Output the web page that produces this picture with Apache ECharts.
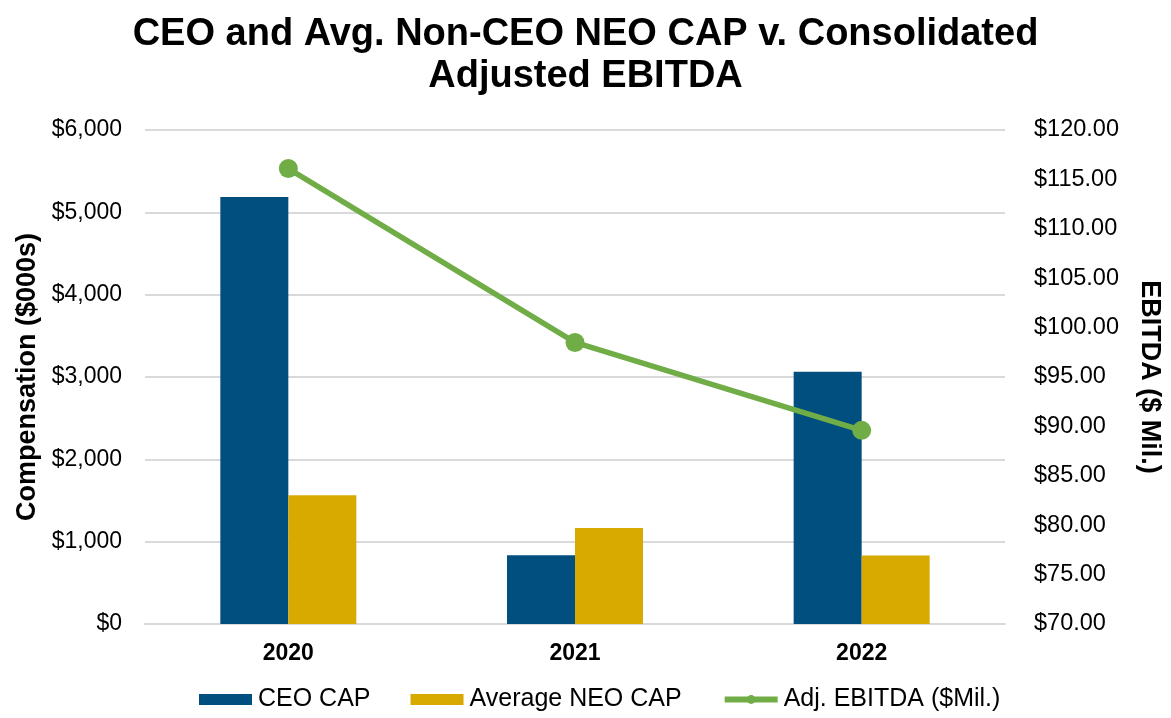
<!DOCTYPE html>
<html>
<head>
<meta charset="utf-8">
<script src="https://cdn.jsdelivr.net/npm/echarts@6/dist/echarts.min.js"></script>
<style>html,body{margin:0;padding:0;background:#fff}#c{width:1171px;height:718px}</style>
</head>
<body>
<div id="c"></div>
<script>
const categories = ['2020', '2021', '2022'];
const ceoCap = [5186, 835, 3063];
const avgNeoCap = [1565, 1167, 831];
const adjEbitda = [116.1, 98.5, 89.6];
const leftTicks = { min: 0, max: 6000, interval: 1000 };
const rightTicks = { min: 70, max: 120, interval: 5 };

const chart = echarts.init(document.getElementById('c'));
const FONT = '"Liberation Sans", Arial, sans-serif';
chart.setOption({
  animation: false,
  textStyle: { fontFamily: FONT },
  title: {
    text: 'CEO and Avg. Non-CEO NEO CAP v. Consolidated\nAdjusted EBITDA',
    left: 'center', top: 9,
    textStyle: { fontSize: 38, fontWeight: 'bold', color: '#000', lineHeight: 42, fontFamily: FONT }
  },
  legend: {
    bottom: 1, left: 194,
    itemWidth: 53, itemHeight: 11, itemGap: 40,
    textStyle: { fontSize: 25, color: '#000', padding: [0, 0, 0, 1] },
    data: [
      { name: 'CEO CAP', icon: 'rect' },
      { name: 'Average NEO CAP', icon: 'rect' },
      { name: 'Adj. EBITDA ($Mil.)', lineStyle: { width: 6 } }
    ]
  },
  grid: { left: 145, right: 165, top: 130, bottom: 94 },
  xAxis: {
    type: 'category', data: categories,
    axisLine: { lineStyle: { color: '#D9D9D9', width: 2 } },
    axisTick: { show: false },
    axisLabel: { fontSize: 23, fontWeight: 'bold', color: '#000', margin: 18 }
  },
  yAxis: [{
    type: 'value', min: leftTicks.min, max: leftTicks.max, interval: leftTicks.interval,
    name: 'Compensation ($000s)', nameLocation: 'middle', nameGap: 103,
    nameTextStyle: { fontSize: 27, fontWeight: 'bold', color: '#000' },
    axisLine: { show: false }, axisTick: { show: false },
    axisLabel: { fontSize: 23, color: '#000', margin: 23,
      formatter: v => '$' + v.toLocaleString('en-US') },
    splitLine: { lineStyle: { color: '#D9D9D9', width: 2 } }
  }, {
    type: 'value', min: rightTicks.min, max: rightTicks.max, interval: rightTicks.interval,
    name: 'EBITDA ($ Mil.)', nameLocation: 'middle', nameGap: 131, nameRotate: -90,
    nameTextStyle: { fontSize: 27, fontWeight: 'bold', color: '#000' },
    axisLine: { show: false }, axisTick: { show: false },
    axisLabel: { fontSize: 23.5, color: '#000', margin: 29,
      formatter: v => '$' + v.toFixed(2) },
    splitLine: { show: false }
  }],
  series: [{
    name: 'CEO CAP', type: 'bar', data: ceoCap, barWidth: 68, barGap: '0%',
    itemStyle: { color: '#004F7F' }
  }, {
    name: 'Average NEO CAP', type: 'bar', data: avgNeoCap, barWidth: 68,
    itemStyle: { color: '#D8AA00' }
  }, {
    name: 'Adj. EBITDA ($Mil.)', type: 'line', yAxisIndex: 1, data: adjEbitda,
    symbol: 'circle', symbolSize: 19,
    lineStyle: { color: '#70AD47', width: 5.5 },
    itemStyle: { color: '#70AD47' }
  }]
});
</script>
</body>
</html>
